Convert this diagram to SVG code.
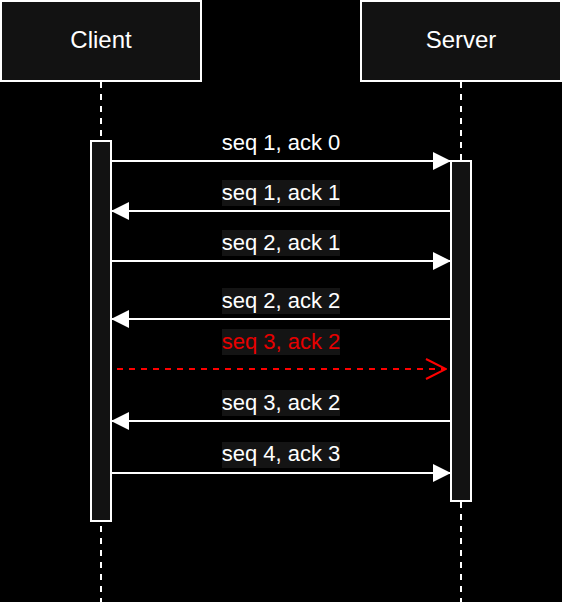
<svg xmlns="http://www.w3.org/2000/svg" width="562" height="602" viewBox="0 0 562 602">
<style>
.box{fill:#121212;stroke:#fff;stroke-width:2}
.life{stroke:#fff;stroke-width:2;stroke-dasharray:6 6;fill:none}
.act{fill:#121212;stroke:#fff;stroke-width:2}
.msg{stroke:#fff;stroke-width:2;fill:none}
.lbl{font-family:"Liberation Sans",Arial,sans-serif;font-size:22px;fill:#fff;text-anchor:middle}
.head{font-family:"Liberation Sans",Arial,sans-serif;font-size:24px;fill:#fff;text-anchor:middle}
.bg{fill:#141414}
</style>
<defs>
<marker id="tri" viewBox="0 0 18 18" refX="18" refY="9" markerWidth="18" markerHeight="18" markerUnits="userSpaceOnUse" orient="auto">
<path d="M0,0 L18,9 L0,18 Z" fill="#fff"/>
</marker>
<marker id="open" viewBox="0 0 22 22" refX="21" refY="11" markerWidth="22" markerHeight="22" markerUnits="userSpaceOnUse" orient="auto">
<path d="M1,1 L21,11 L1,21" fill="none" stroke="#f00" stroke-width="2"/>
</marker>
</defs>
<rect x="0" y="0" width="562" height="602" fill="#000"/>
<g id="lifelines">
<line class="life" x1="101" y1="82" x2="101" y2="602"/>
<line class="life" x1="461" y1="82" x2="461" y2="602"/>
</g>
<g id="client">
<rect class="box" x="1" y="1" width="200" height="80"/>
<text class="head" x="101" y="48">Client</text>
</g>
<g id="server">
<rect class="box" x="361" y="1" width="200" height="80"/>
<text class="head" x="461" y="48">Server</text>
</g>
<g id="client-activation">
<rect class="act" x="91" y="141" width="20" height="380"/>
</g>
<g id="server-activation">
<rect class="act" x="451" y="161" width="20" height="340"/>
</g>
<g id="connectors">
<line class="msg" x1="111" y1="161" x2="451" y2="161" marker-end="url(#tri)"/>
<line class="msg" x1="451" y1="211" x2="111" y2="211" marker-end="url(#tri)"/>
<line class="msg" x1="111" y1="261" x2="451" y2="261" marker-end="url(#tri)"/>
<line class="msg" x1="451" y1="319" x2="111" y2="319" marker-end="url(#tri)"/>
<line x1="117" y1="369" x2="446" y2="369" stroke="#f00" stroke-width="2" stroke-dasharray="6 6" marker-end="url(#open)"/>
<line class="msg" x1="451" y1="421" x2="111" y2="421" marker-end="url(#tri)"/>
<line class="msg" x1="111" y1="473" x2="451" y2="473" marker-end="url(#tri)"/>
</g>
<g id="labels">
<text class="lbl" x="281" y="150">seq 1, ack 0</text>
<rect class="bg" x="222" y="180" width="118" height="26"/>
<text class="lbl" x="281" y="200">seq 1, ack 1</text>
<rect class="bg" x="222" y="230" width="118" height="26"/>
<text class="lbl" x="281" y="250">seq 2, ack 1</text>
<rect class="bg" x="222" y="288" width="118" height="26"/>
<text class="lbl" x="281" y="308">seq 2, ack 2</text>
<rect class="bg" x="222" y="329" width="118" height="26"/>
<text class="lbl" x="281" y="349" style="fill:#e60000">seq 3, ack 2</text>
<rect class="bg" x="222" y="390" width="118" height="26"/>
<text class="lbl" x="281" y="410">seq 3, ack 2</text>
<rect class="bg" x="222" y="442" width="118" height="26"/>
<text class="lbl" x="281" y="461">seq 4, ack 3</text>
</g>
</svg>
